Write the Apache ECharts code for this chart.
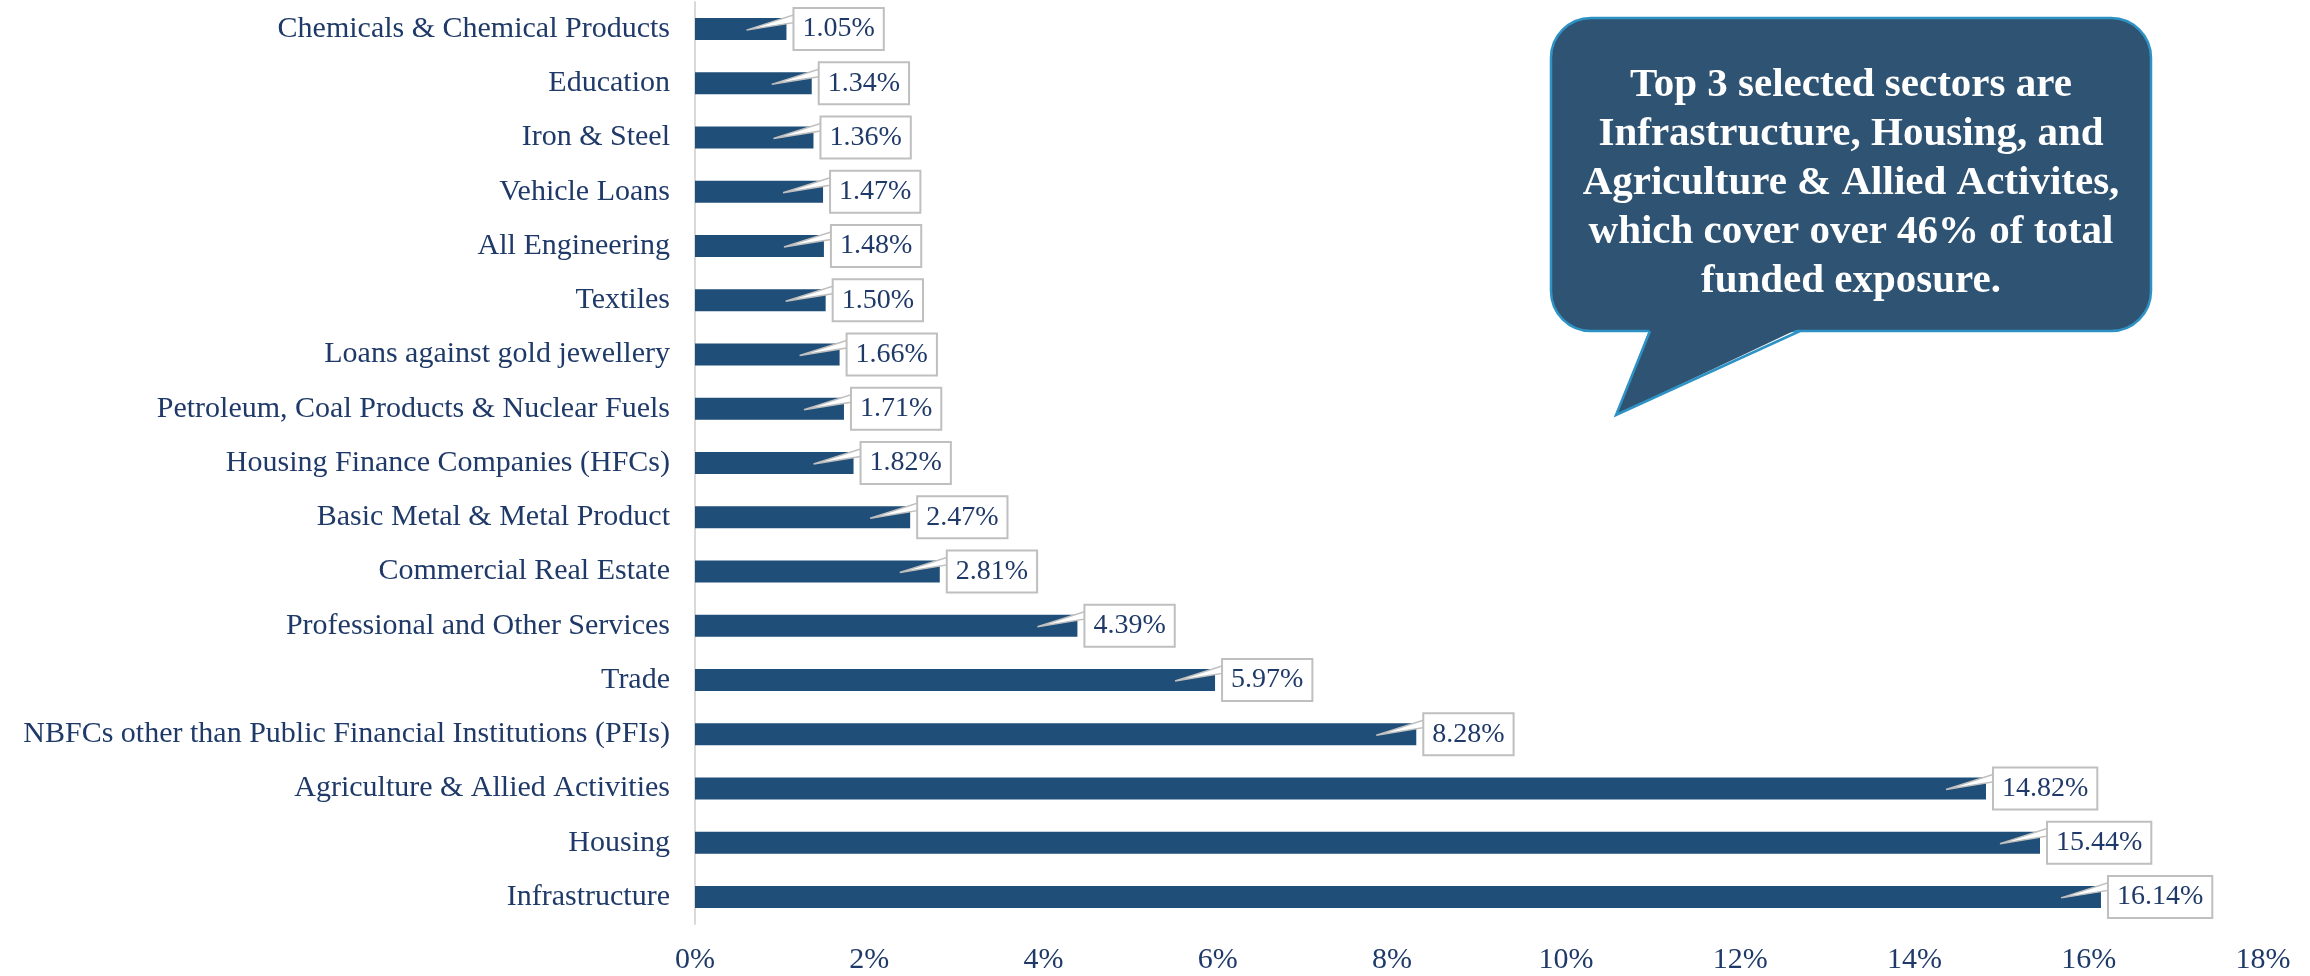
<!DOCTYPE html>
<html>
<head>
<meta charset="utf-8">
<script src="https://cdn.jsdelivr.net/npm/echarts@6/dist/echarts.min.js"></script>
<style>
  html, body { margin: 0; padding: 0; background: #fff; }
  #chart { width: 2310px; height: 976px; }
</style>
</head>
<body>
<div id="chart"></div>
<script>
// sectors, top to bottom as in the picture
const sectors = [
  'Chemicals & Chemical Products',
  'Education',
  'Iron & Steel',
  'Vehicle Loans',
  'All Engineering',
  'Textiles',
  'Loans against gold jewellery',
  'Petroleum, Coal Products & Nuclear Fuels',
  'Housing Finance Companies (HFCs)',
  'Basic Metal & Metal Product',
  'Commercial Real Estate',
  'Professional and Other Services',
  'Trade',
  'NBFCs other than Public Financial Institutions (PFIs)',
  'Agriculture & Allied Activities',
  'Housing',
  'Infrastructure'
];
// share of funded exposure (%)
const shares = [1.05, 1.34, 1.36, 1.47, 1.48, 1.50, 1.66, 1.71, 1.82, 2.47, 2.81, 4.39, 5.97, 8.28, 14.82, 15.44, 16.14];
const xTicks = [0, 2, 4, 6, 8, 10, 12, 14, 16, 18];

const calloutLines = [
  'Top 3 selected sectors are',
  'Infrastructure, Housing, and',
  'Agriculture & Allied Activites,',
  'which cover over 46% of total',
  'funded exposure.'
];

const textColor = '#1F3A68';
const barColor = '#1F4E79';
const fontFamily = '"Liberation Serif", "DejaVu Serif", serif';
const bubbleFill = '#2F5373';
const bubbleEdge = '#2E93C4';

const myChart = echarts.init(document.getElementById('chart'));

// note bubble box and its tail
const bx0 = 1551, bx1 = 2151, by0 = 18, by1 = 331;
const tailTip = [1616, 415];
const tailBase = [1650, 1800];

// data label: white box with a thin pointer going back into the bar
const renderLabel = (params, api) => {
  const end = api.coord([api.value(0), api.value(1)]);
  const x = end[0], y = end[1];
  const boxLeft = x + 8;
  return {
    type: 'group',
    children: [
      {
        type: 'polygon',
        shape: { points: [[x - 40, y + 1], [boxLeft + 2, y - 15], [boxLeft + 2, y - 7]] },
        style: { fill: '#fff', stroke: '#BFBFBF', lineWidth: 1.5 }
      },
      {
        type: 'text',
        x: boxLeft,
        y: y,
        style: {
          text: api.value(0).toFixed(2) + '%',
          font: '28px ' + fontFamily,
          fill: textColor,
          align: 'left',
          verticalAlign: 'middle',
          backgroundColor: '#fff',
          borderColor: '#BFBFBF',
          borderWidth: 2,
          padding: [7, 8, 5, 8]
        }
      }
    ]
  };
};

const option = {
  backgroundColor: '#fff',
  animation: false,
  grid: {
    left: 695,
    right: 47,
    top: 2,
    bottom: 52
  },
  xAxis: {
    type: 'value',
    min: 0,
    max: 18,
    interval: 2,
    axisLine: { show: false },
    axisTick: { show: false },
    splitLine: { show: false },
    axisLabel: {
      color: textColor,
      fontFamily: fontFamily,
      fontSize: 30,
      margin: 21,
      formatter: v => (xTicks.includes(v) ? v + '%' : '')
    }
  },
  yAxis: {
    type: 'category',
    inverse: true,
    data: sectors,
    axisLine: { show: true, lineStyle: { color: '#D9D9D9', width: 2 } },
    axisTick: { show: false },
    axisLabel: {
      color: textColor,
      fontFamily: fontFamily,
      fontSize: 30,
      margin: 25
    }
  },
  series: [
    {
      type: 'bar',
      data: shares,
      barWidth: 22,
      itemStyle: { color: barColor },
      z: 2
    },
    {
      type: 'custom',
      data: shares.map((v, i) => [v, i]),
      renderItem: renderLabel,
      z: 5
    }
  ],
  graphic: [
    {
      type: 'rect',
      shape: { x: bx0, y: by0, width: bx1 - bx0, height: by1 - by0, r: 40 },
      style: { fill: bubbleFill, stroke: bubbleEdge, lineWidth: 2.5 },
      z: 10
    },
    {
      type: 'polygon',
      shape: { points: [[tailBase[0], by1 - 3], tailTip, [tailBase[1], by1 - 3]] },
      style: { fill: bubbleFill },
      z: 11
    },
    {
      type: 'polyline',
      shape: { points: [[tailBase[0], by1], tailTip, [tailBase[1], by1]] },
      style: { stroke: bubbleEdge, lineWidth: 2.5, fill: null },
      z: 12
    },
    {
      type: 'text',
      x: 1851,
      y: 183,
      style: {
        text: calloutLines.join('\n'),
        font: 'bold 41px ' + fontFamily,
        fill: '#fff',
        align: 'center',
        verticalAlign: 'middle',
        lineHeight: 49
      },
      z: 13
    }
  ]
};

myChart.setOption(option);
</script>
</body>
</html>
